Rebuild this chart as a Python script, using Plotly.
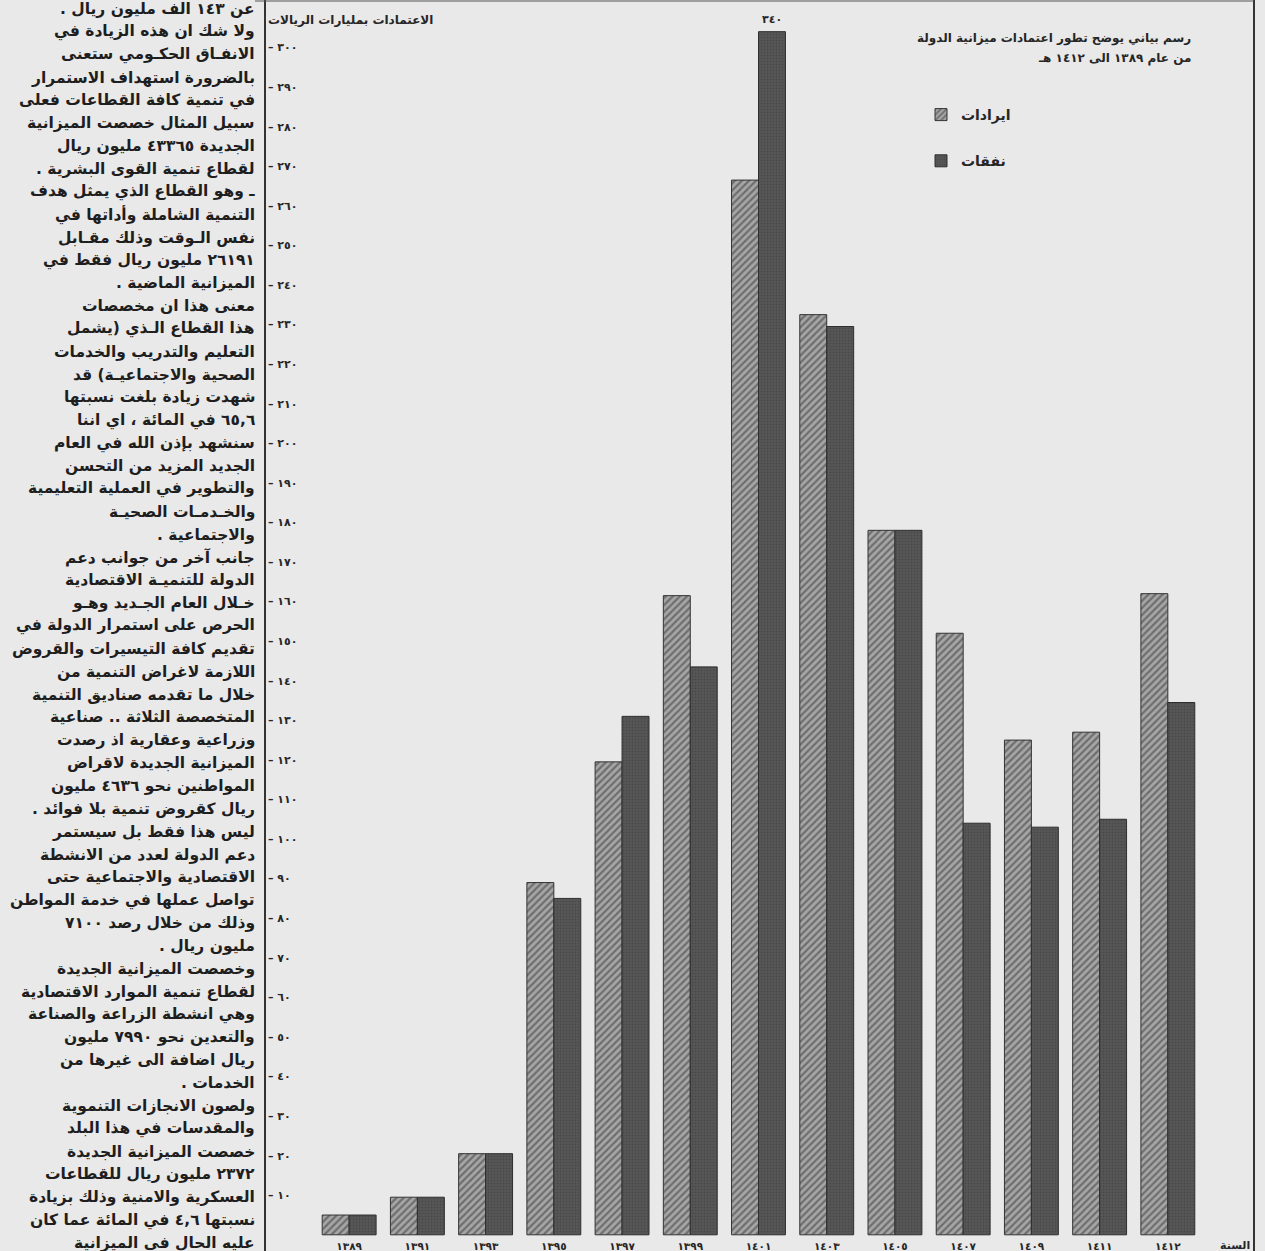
import plotly.graph_objects as go

# ---------------- data ----------------
years = ["١٣٨٩", "١٣٩١", "١٣٩٣", "١٣٩٥", "١٣٩٧", "١٣٩٩", "١٤٠١",
         "١٤٠٣", "١٤٠٥", "١٤٠٧", "١٤٠٩", "١٤١١", "١٤١٢"]
revenues = [5, 9.5, 20.5, 89, 119.5, 161.5, 266.5, 232.5, 178, 152, 125, 127, 162]
expenditures = [5, 9.5, 20.5, 85, 131, 143.5, 304, 229.5, 178, 104, 103, 105, 134.5]
series_names = ["ايرادات", "نفقات"]
peak_label = "٣٤٠"
y_ticks = list(range(0, 301, 10))
title_lines = ["رسم بياني يوضح تطور اعتمادات ميزانية الدولة",
               "من عام ١٣٨٩ الى ١٤١٢ هـ"]
y_title = "الاعتمادات بمليارات الريالات"
x_title = "السنة"

article_lines = [
    "عن ١٤٣ الف مليون ريال .",
    "ولا شك ان هذه الزيادة في",
    "الانفـاق الحكـومي ستعنى",
    "بالضرورة استهداف الاستمرار",
    "في تنمية كافة القطاعات فعلى",
    "سبيل المثال خصصت الميزانية",
    "الجديدة ٤٣٣٦٥ مليون ريال",
    "لقطاع تنمية القوى البشرية .",
    "ـ وهو القطاع الذي يمثل هدف",
    "التنمية الشاملة وأداتها في",
    "نفس الـوقت وذلك مقـابل",
    "٢٦١٩١ مليون ريال فقط في",
    "الميزانية الماضية .",
    "معنى هذا ان مخصصات",
    "هذا القطاع الـذي (يشمل",
    "التعليم والتدريب والخدمات",
    "الصحية والاجتماعيـة) قد",
    "شهدت زيادة بلغت نسبتها",
    "٦٥,٦ في المائة ، اي اننا",
    "سنشهد بإذن الله في العام",
    "الجديد المزيد من التحسن",
    "والتطوير في العملية التعليمية",
    "والخـدمـات الصحيـة",
    "والاجتماعية .",
    "جانب آخر من جوانب دعم",
    "الدولة للتنميـة الاقتصادية",
    "خـلال العام الجـديد وهـو",
    "الحرص على استمرار الدولة في",
    "تقديم كافة التيسيرات والقروض",
    "اللازمة لاغراض التنمية من",
    "خلال ما تقدمه صناديق التنمية",
    "المتخصصة الثلاثة .. صناعية",
    "وزراعية وعقارية اذ رصدت",
    "الميزانية الجديدة لاقراض",
    "المواطنين نحو ٤٦٣٦ مليون",
    "ريال كقروض تنمية بلا فوائد .",
    "ليس هذا فقط بل سيستمر",
    "دعم الدولة لعدد من الانشطة",
    "الاقتصادية والاجتماعية حتى",
    "تواصل عملها في خدمة المواطن",
    "وذلك من خلال رصد ٧١٠٠",
    "مليون ريال .",
    "وخصصت الميزانية الجديدة",
    "لقطاع تنمية الموارد الاقتصادية",
    "وهي انشطة الزراعة والصناعة",
    "والتعدين نحو ٧٩٩٠ مليون",
    "ريال اضافة الى غيرها من",
    "الخدمات .",
    "ولصون الانجازات التنموية",
    "والمقدسات في هذا البلد",
    "خصصت الميزانية الجديدة",
    "٢٣٧٢ مليون ريال للقطاعات",
    "العسكرية والامنية وذلك بزيادة",
    "نسبتها ٤,٦ في المائة عما كان",
    "عليه الحال في الميزانية",
]

# ---------------- helpers ----------------
W, H = 1265, 1251
ML, MR, MT, MB = 265, 11, 0, 15
PW, PH = W - ML - MR, H - MT - MB
AR_DIGITS = str.maketrans("0123456789", "٠١٢٣٤٥٦٧٨٩")
CAT_STEP = 68.1


def ar(n):
    return str(n).translate(AR_DIGITS)


def rtl(s):
    return "\u202b" + s + "\u202c"


def xp(px):
    return (px - ML) / PW


def yp(py):
    return (H - MB - py) / PH


FONT = "DejaVu Sans"
INK = "#262626"
PAPER = "#e9e9e9"


def bold(size, color=INK):
    return dict(family=FONT, size=size, color=color, weight="bold")


fig = go.Figure()
fig.add_trace(go.Bar(
    x=years, y=revenues, name=rtl(series_names[0]),
    legendgroup="a",
    marker=dict(color="#9a9a9a",
                line=dict(color="#333333", width=1),
                pattern=dict(shape="/", fgcolor="#353535", bgcolor="#a6a6a6",
                             size=5, solidity=0.45)),
))
fig.add_trace(go.Bar(
    x=years, y=expenditures, name=rtl(series_names[1]),
    legendgroup="b",
    marker=dict(color="#4e4e4e",
                line=dict(color="#2e2e2e", width=1),
                pattern=dict(shape=".", fgcolor="#3a3a3a", bgcolor="#575757",
                             size=3, solidity=0.3)),
))

annotations = []
peak_i = expenditures.index(max(expenditures))
annotations.append(dict(x=years[peak_i], y=expenditures[peak_i], xref="x", yref="y",
                        text=peak_label, showarrow=False,
                        xshift=13, yshift=4, yanchor="bottom", font=bold(11)))
annotations.append(dict(x=xp(1193), y=yp(38), xref="paper", yref="paper",
                        text=rtl(title_lines[0]), showarrow=False,
                        xanchor="right", yanchor="middle", font=bold(12)))
annotations.append(dict(x=xp(1193), y=yp(58), xref="paper", yref="paper",
                        text=rtl(title_lines[1]), showarrow=False,
                        xanchor="right", yanchor="middle", font=bold(12)))
annotations.append(dict(x=xp(350), y=yp(20), xref="paper", yref="paper",
                        text=rtl(y_title), showarrow=False,
                        xanchor="center", yanchor="middle", font=bold(12)))
annotations.append(dict(x=xp(1252), y=yp(1245), xref="paper", yref="paper",
                        text=rtl(x_title), showarrow=False,
                        xanchor="right", yanchor="middle", font=bold(11)))
LINE0, LSTEP = 9, (1243 - 9) / (len(article_lines) - 1)
for i, line in enumerate(article_lines):
    annotations.append(dict(x=xp(257), y=yp(LINE0 + i * LSTEP), xref="paper", yref="paper",
                            text=rtl(line), showarrow=False,
                            xanchor="right", yanchor="middle",
                            font=bold(15.5, "#1e1e1e")))

shapes = [
    dict(type="line", xref="paper", yref="paper", x0=0, x1=0, y0=yp(0), y1=yp(H),
         line=dict(color="#333333", width=2)),
    dict(type="line", xref="paper", yref="paper", x0=1, x1=1, y0=yp(0), y1=yp(H),
         line=dict(color="#333333", width=2)),
    dict(type="line", xref="paper", yref="paper", x0=xp(255), x1=1.0, y0=yp(1), y1=yp(1),
         line=dict(color="#555555", width=1)),
]

n = len(years)
fig.update_layout(
    width=W, height=H,
    margin=dict(l=ML, r=MR, t=MT, b=MB, autoexpand=False),
    paper_bgcolor=PAPER, plot_bgcolor=PAPER,
    barmode="group", bargap=0.21, bargroupgap=0,
    showlegend=True,
    legend=dict(x=xp(921), y=yp(99), xanchor="left", yanchor="top",
                bgcolor="rgba(0,0,0,0)", tracegroupgap=25,
                font=bold(14)),
    xaxis=dict(type="category",
               range=[-(349 - ML) / CAT_STEP, n - 1 + (1254 - 1168) / CAT_STEP],
               showgrid=False, zeroline=False, showline=False, ticks="",
               ticklabelstandoff=2, tickfont=bold(10.5)),
    yaxis=dict(range=[-0.3, 312], tickvals=y_ticks,
               ticktext=["– " + ar(v) for v in y_ticks],
               ticklabelposition="inside", ticks="",
               showgrid=False, zeroline=False, showline=False,
               tickfont=bold(11)),
    annotations=annotations, shapes=shapes,
)

fig.write_html("out.html", config={"displayModeBar": False},
               post_script="document.body.style.margin='0';document.body.style.overflow='hidden';")
